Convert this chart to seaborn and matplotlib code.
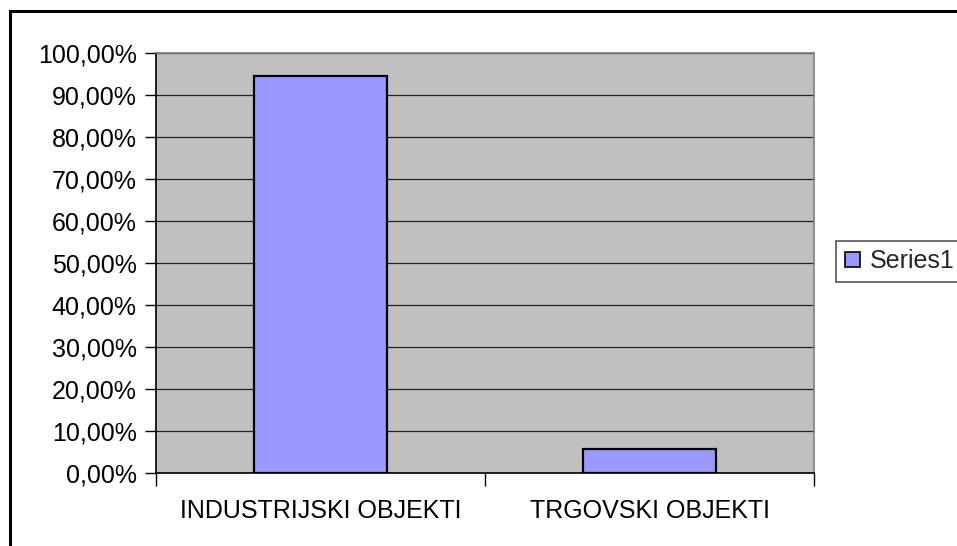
import matplotlib
matplotlib.use("Agg")
import matplotlib.pyplot as plt
import matplotlib.patches as mpatches
from matplotlib.ticker import FuncFormatter, FixedLocator
import seaborn as sns
import pandas as pd

categories = ["INDUSTRIJSKI OBJEKTI", "TRGOVSKI OBJEKTI"]
values = [94.4, 5.6]
series_name = "Series1"
y_ticks = list(range(0, 101, 10))

sns.set_theme(style="white")
plt.rcParams["font.family"] = ["Liberation Sans", "DejaVu Sans"]
fs = 18

df = pd.DataFrame({"kategorija": categories, "udio": values})

fig = plt.figure(figsize=(9.57, 5.46), dpi=100)
ax = fig.add_axes([156 / 957, (546 - 472.7) / 546, (814 - 156) / 957, 420 / 546])
ax.set_facecolor("#C0C0C0")

sns.barplot(data=df, x="kategorija", y="udio", color="#9999FF", saturation=1,
            edgecolor="black", linewidth=1.6, width=0.407, ax=ax, zorder=3)

ax.set_xlim(-0.5, 1.5)
ax.set_ylim(0, 100)
ax.set_yticks(y_ticks)
ax.yaxis.set_major_formatter(FuncFormatter(lambda v, p: f"{v:.2f}%".replace(".", ",")))
ax.yaxis.grid(True, color="#222222", linewidth=0.9)
ax.set_axisbelow(True)
ax.set_xlabel("")
ax.set_ylabel("")

# tick marks between categories, labels centred under bars
ax.xaxis.set_minor_locator(FixedLocator([-0.5, 0.5, 1.5]))
ax.tick_params(axis="x", which="major", length=0, labelsize=fs, pad=19, colors="black")
ax.tick_params(axis="x", which="minor", length=9, width=1, direction="out", color="black", bottom=True)
ax.tick_params(axis="y", length=8, width=1, direction="out", left=True, labelsize=fs, pad=6, colors="black")

for side in ["left", "bottom"]:
    ax.spines[side].set_color("black")
    ax.spines[side].set_linewidth(1.2)
for side in ["right", "top"]:
    ax.spines[side].set_color("#808080")
    ax.spines[side].set_linewidth(1.2)

handle = mpatches.Patch(facecolor="#9999FF", edgecolor="black", linewidth=1.2, label=series_name)
leg = fig.legend(handles=[handle], loc="lower left",
                 bbox_to_anchor=(836 / 957, (546 - 282) / 546),
                 fontsize=fs, frameon=True, fancybox=False, framealpha=1,
                 edgecolor="#555555", handlelength=0.6, handleheight=0.6,
                 handletextpad=0.4, borderpad=0.35, borderaxespad=0)
leg.get_frame().set_linewidth(1.2)

# chart area border (right and bottom edges fall outside the image)
fig.patches.append(mpatches.Rectangle((10 / 957, -0.05), 1.2, (546 - 11) / 546 + 0.05,
                                      transform=fig.transFigure, fill=False,
                                      edgecolor="black", linewidth=2.2))

fig.savefig("out.png", dpi=100)
